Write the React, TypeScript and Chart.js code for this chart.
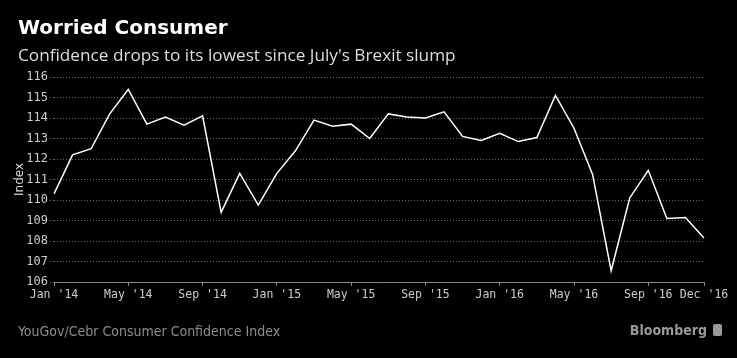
import React, { useEffect, useRef } from "react";
import { Chart, registerables } from "chart.js";

Chart.register(...registerables);

const months: string[] = [
  "Jan '14", "Feb '14", "Mar '14", "Apr '14", "May '14", "Jun '14", "Jul '14", "Aug '14", "Sep '14", "Oct '14", "Nov '14", "Dec '14",
  "Jan '15", "Feb '15", "Mar '15", "Apr '15", "May '15", "Jun '15", "Jul '15", "Aug '15", "Sep '15", "Oct '15", "Nov '15", "Dec '15",
  "Jan '16", "Feb '16", "Mar '16", "Apr '16", "May '16", "Jun '16", "Jul '16", "Aug '16", "Sep '16", "Oct '16", "Nov '16", "Dec '16",
];

const confidence: number[] = [
  110.3, 112.2, 112.5, 114.2, 115.4, 113.7, 114.05, 113.65, 114.1, 109.4, 111.3, 109.75,
  111.3, 112.4, 113.9, 113.6, 113.7, 113.0, 114.2, 114.05, 114.0, 114.3, 113.1, 112.9,
  113.25, 112.85, 113.05, 115.1, 113.5, 111.25, 106.55, 110.1, 111.45, 109.1, 109.15, 108.15,
];

const shownTicks: string[] = [
  "Jan '14", "May '14", "Sep '14", "Jan '15", "May '15", "Sep '15", "Jan '16", "May '16", "Sep '16", "Dec '16",
];

const yMin = 106;
const yMax = 116;

export default function App() {
  const ref = useRef<HTMLCanvasElement | null>(null);

  useEffect(() => {
    if (!ref.current) return;
    const chart = new Chart(ref.current, {
      type: "line",
      data: {
        labels: months,
        datasets: [
          {
            data: confidence,
            borderColor: "#ffffff",
            borderWidth: 1.5,
            pointRadius: 0,
            tension: 0,
            fill: false,
          },
        ],
      },
      options: {
        animation: false,
        responsive: false,
        devicePixelRatio: 1,
        layout: { padding: { top: 77, right: 33, bottom: 52, left: 0 } },
        plugins: { legend: { display: false }, tooltip: { enabled: false } },
        scales: {
          x: {
            type: "category",
            afterFit: (s: any) => { s.height = 24; },
            border: { display: true, color: "#888888", width: 1 },
            grid: {
              drawOnChartArea: false,
              drawTicks: true,
              tickLength: 4,
              color: "#888888",
            },
            ticks: {
              autoSkip: false,
              maxRotation: 0,
              minRotation: 0,
              padding: 2,
              color: "#cccccc",
              font: { family: "'DejaVu Sans Mono', monospace", size: 11.5 },
              callback: function (this: any, _v: any, i: number) {
                const l = months[i];
                return shownTicks.includes(l) ? l : null;
              },
            },
          },
          y: {
            min: yMin,
            max: yMax,
            afterFit: (s: any) => { s.width = 54; },
            border: { display: false, dash: [1, 2] },
            grid: {
              color: "#6a6a6a",
              lineWidth: 1,
              tickLength: 4,
              tickBorderDash: [1, 2],
            },
            ticks: {
              stepSize: 1,
              padding: 2,
              color: "#cccccc",
              font: { family: "'DejaVu Sans Mono', monospace", size: 12 },
            },
            title: {
              display: true,
              text: "Index",
              color: "#dddddd",
              font: { family: "'DejaVu Sans', sans-serif", size: 12 },
              padding: { top: 13, bottom: 0 },
            },
          },
        },
      },
    } as any);
    return () => chart.destroy();
  }, []);

  return (
    <div
      style={{
        position: "absolute",
        left: 0,
        top: 0,
        width: 737,
        height: 358,
        background: "#000000",
        overflow: "hidden",
      }}
    >
      <canvas
        ref={ref}
        width={737}
        height={358}
        style={{ position: "absolute", left: 0, top: 0, width: 737, height: 358 }}
      />
      <div
        style={{
          position: "absolute",
          left: 18,
          top: 15,
          color: "#ffffff",
          fontFamily: "'DejaVu Sans', sans-serif",
          fontWeight: "bold",
          fontSize: 20,
          whiteSpace: "nowrap",
        }}
      >
        Worried Consumer
      </div>
      <div
        style={{
          position: "absolute",
          left: 18,
          top: 43,
          color: "#dddddd",
          fontFamily: "'Open Sans', sans-serif",
          fontSize: 17.2,
          whiteSpace: "nowrap",
        }}
      >
        Confidence drops to its lowest since July's Brexit slump
      </div>
      <div
        style={{
          position: "absolute",
          left: 18,
          top: 323,
          color: "#8c8c8c",
          fontFamily: "'DejaVu Sans Condensed', 'DejaVu Sans', sans-serif",
          fontStretch: "condensed",
          fontSize: 14,
          whiteSpace: "nowrap",
        }}
      >
        YouGov/Cebr Consumer Confidence Index
      </div>
      <div
        style={{
          position: "absolute",
          right: 15,
          top: 322,
          color: "#9a9a9a",
          fontFamily: "'DejaVu Sans Condensed', 'DejaVu Sans', sans-serif",
          fontWeight: "bold",
          fontSize: 14,
          whiteSpace: "nowrap",
          display: "flex",
          alignItems: "center",
        }}
      >
        Bloomberg
        <span
          style={{
            display: "inline-block",
            width: 9,
            height: 12,
            marginLeft: 6,
            background: "#9a9a9a",
            borderRadius: 2,
          }}
        />
      </div>
    </div>
  );
}
